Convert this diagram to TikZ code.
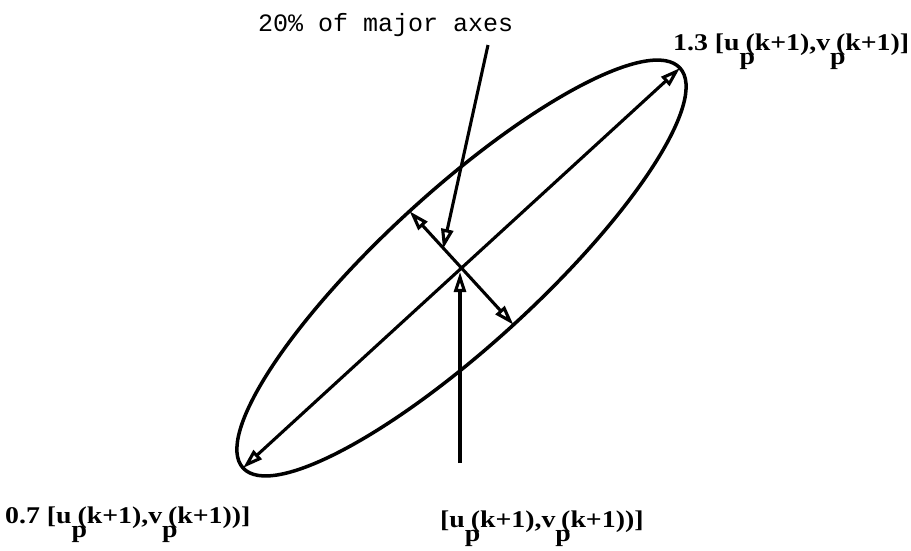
\documentclass[tikz,border=0pt]{standalone}
\usepackage{fontspec}
\setmainfont{Liberation Serif}
\newfontfamily\monofont{Liberation Mono}
\usetikzlibrary{arrows.meta,calc}
\newcommand{\subp}{\rlap{\raisebox{-14pt}{p}}\kern5pt}
\newcommand{\widelab}[1]{\scalebox{1.16}[1]{#1}}
\begin{document}
\begin{tikzpicture}[x=1pt,y=-1pt,
  opentip/.tip={Triangle[open,length=20pt,width=12pt]},
  axisline/.style={line width=3.1pt,{opentip}-{opentip}},
  pointer/.style={line width=3.1pt,-{opentip}},
  outline/.style={line width=3.5pt},
  lab/.style={inner sep=0pt,anchor=base west,font=\bfseries\fontsize{24}{28}\selectfont},
  toplab/.style={inner sep=0pt,anchor=base west,font=\monofont\fontsize{25}{30}\selectfont}]
\useasboundingbox (0,0) rectangle (911,550);
\coordinate (c) at (461.5,268);
\coordinate (majA) at ($(c)+(42.47:296.2pt)$);
\coordinate (majB) at ($(c)+(222.47:296.2pt)$);
\coordinate (minA) at ($(c)+(132.47:77pt)$);
\coordinate (minB) at ($(c)+(-47.53:77pt)$);
\coordinate (ptrtip) at (443,249);
\coordinate (ptrstart) at (488,45);
\coordinate (vbot) at (460,463);
\coordinate (vtop) at (460,272);
% ellipse
\draw[outline,rotate around={42.47:(c)}] (c) ellipse [x radius=296.2pt, y radius=77pt];
% axes
\draw[axisline] (majB) -- (majA);
\draw[axisline] (minA) -- (minB);
% labels
\node[toplab] (top) at (258,31) {20\% of major axes};
\node[lab] (l13) at (673,50) {\widelab{1.3\hspace{6pt}[u\subp(k+1),v\subp(k+1)]}};
\node[lab] (l07) at (5,523) {\widelab{0.7\hspace{6pt}[u\subp(k+1),v\subp(k+1))]}};
\node[lab] (lc) at (440,527) {\widelab{[u\subp(k+1),v\subp(k+1))]}};
% pointers
\draw[pointer] (ptrstart) -- (ptrtip);
\draw[pointer] (vbot) -- (vtop);
\end{tikzpicture}
\end{document}
